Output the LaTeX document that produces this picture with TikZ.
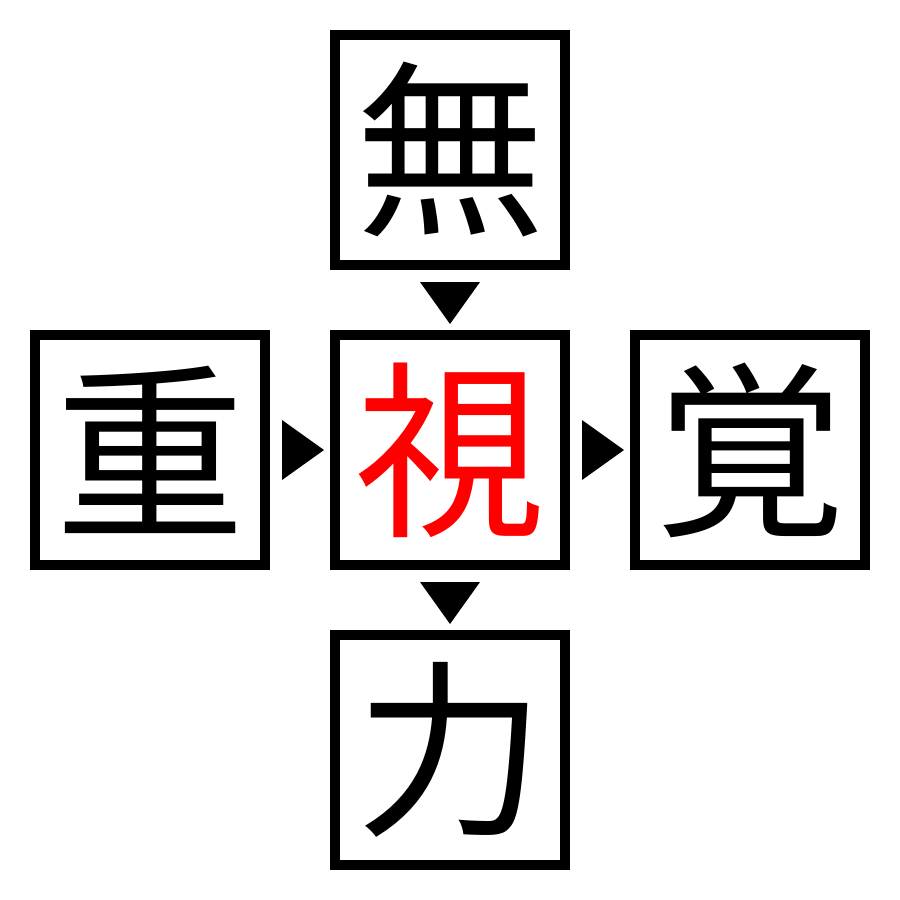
\documentclass[tikz,border=0pt]{standalone}
\usepackage{fontspec}
\newfontfamily\cjk{Noto Sans CJK JP}
\begin{document}
\begin{tikzpicture}[x=0.01cm,y=-0.01cm,
  kbox/.style={draw=black,line width=0.1cm,minimum size=2.3cm,inner sep=0pt,outer sep=0pt,
    font=\cjk\fontsize{54}{54}\selectfont},
  tri/.style={fill=black,draw=none}]
\useasboundingbox (0,0) rectangle (900,900);
\fill[white] (0,0) rectangle (900,900);
\node[kbox] (top) at (450,150) {無};
\node[kbox] (left) at (150,450) {重};
\node[kbox,text=red] (mid) at (450,450) {視};
\node[kbox] (right) at (750,450) {覚};
\node[kbox] (bot) at (450,750) {力};
\fill[tri] (420,282) -- (480,282) -- (450,324) -- cycle;
\fill[tri] (420,582) -- (480,582) -- (450,624) -- cycle;
\fill[tri] (282,420) -- (282,480) -- (324,450) -- cycle;
\fill[tri] (582,420) -- (582,480) -- (624,450) -- cycle;
\end{tikzpicture}
\end{document}
